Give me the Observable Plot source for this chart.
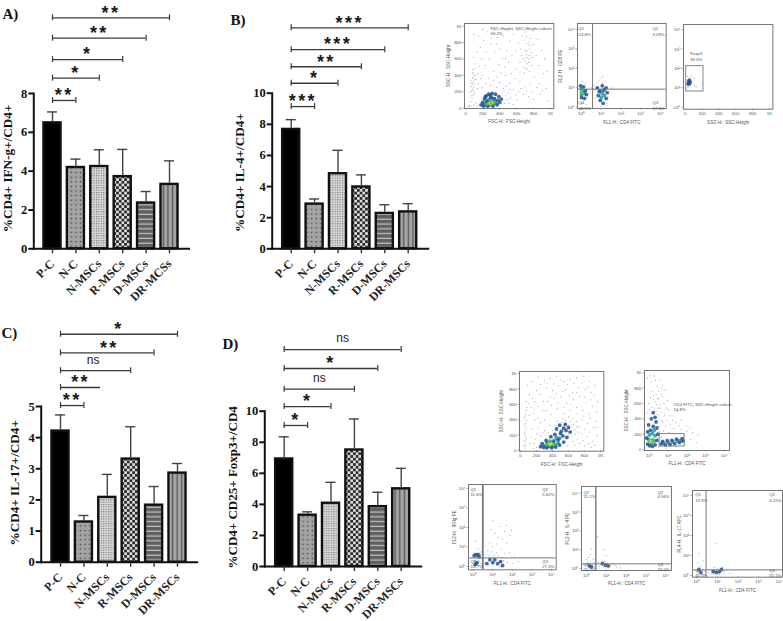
<!DOCTYPE html>
<html>
<head>
<meta charset="utf-8">
<script src="https://cdn.jsdelivr.net/npm/d3@7"></script>
<script src="https://cdn.jsdelivr.net/npm/@observablehq/plot@0.6"></script>
<style>
html,body{margin:0;padding:0;background:#fff;}
#page{position:relative;width:783px;height:621px;overflow:hidden;background:#fff;}
#page svg{position:absolute;overflow:visible;background:transparent;}
.stars text{letter-spacing:2.4px;}
</style>
</head>
<body>
<div id="page"></div>
<script>
// ---------- bar chart data ----------
const groupsA = ["P-C","N-C","N-MSCs","R-MSCs","D-MSCs","DR-MCSs"];
const groupsOther = ["P-C","N-C","N-MSCs","R-MSCs","D-MSCs","DR-MSCs"];

const meansA = [6.55,4.25,4.3,3.78,2.42,3.38];
const upperA = [7.05,4.62,5.1,5.12,2.95,4.53];
const bracketLevelsA = [7.64,8.79,9.75,10.85,11.9];
const bracketMarksA = ["**","*","*","**","**"];

const meansB = [7.75,2.95,4.9,4.05,2.35,2.45];
const upperB = [8.3,3.2,6.33,4.75,2.83,2.9];
const bracketLevelsB = [9.14,10.64,11.7,12.8,14.2];
const bracketMarksB = ["***","*","**","***","***"];

const meansC = [4.25,1.33,2.12,3.35,1.87,2.9];
const upperC = [4.73,1.5,2.82,4.35,2.43,3.17];
const bracketLevelsC = [5.03,5.61,6.15,6.72,7.32];
const bracketMarksC = ["**","**","ns","**","*"];

const meansD = [7.0,3.38,4.15,7.58,3.93,5.08];
const upperD = [8.35,3.52,5.42,9.5,4.78,6.32];
const bracketLevelsD = [9.08,10.3,11.42,12.75,13.97];
const bracketMarksD = ["*","*","ns","*","ns"];

const patternNames = ["solid","dots","fine","check","hstripe","vstripe"];

// ---------- flow cytometry dots ----------
const f1Sparse=[[40,30],[60,80],[75,120],[85,160],[70,210],[95,250],[80,300],[65,340],[90,380],[75,430],[100,180],[110,290],[60,260],[85,440],[120,350],[140,420],[160,510],[110,540],[90,620],[130,680],[170,740],[210,820],[150,880],[100,900],[250,930],[300,780],[340,690],[280,600],[230,520],[200,400],[270,360],[330,450],[390,530],[430,610],[480,700],[520,820],[560,900],[610,950],[440,880],[370,860],[640,560],[680,500],[700,620],[720,700],[740,770],[760,850],[690,830],[710,560],[750,600],[780,520],[730,480],[770,680],[660,640],[650,720],[800,780],[830,640],[860,520],[900,700],[920,420],[870,300],[810,380],[760,300],[700,260],[640,320],[580,360],[520,300],[470,400],[560,230],[620,200],[680,170],[740,140],[800,110],[880,170],[950,240],[970,90],[600,100],[500,180],[440,240],[400,310],[360,250],[68,150],[82,225],[72,275],[92,320],[78,365],[88,410],[705,660],[735,640],[755,720],[715,790],[745,810],[690,590],[725,540],[480,100],[530,130],[455,60],[510,60],[560,45],[120,60],[30,15],[60,25],[95,40],[140,30]];
const f1Extra=[[58,190],[98,205],[62,310],[105,345],[115,400],[78,470],[100,480],[135,240],[150,300],[175,360],[195,250],[240,300],[290,280],[325,340],[370,380],[415,430],[455,500],[505,560],[545,640],[590,700],[625,790],[670,880],[718,870],[772,760],[790,620],[742,560],[698,700],[675,600],[728,610],[760,640],[708,480],[750,450],[690,430],[640,440],[590,480],[540,420],[480,270],[430,190],[470,150],[510,110],[450,210],[520,230],[590,160],[650,240],[720,210],[780,190],[840,250],[905,210],[190,600],[240,680],[300,860],[360,780],[410,720],[470,600],[200,960],[330,950],[470,960],[700,930],[850,840],[930,600],[960,450]];
const f1Dark=[[180,40],[200,70],[220,110],[240,150],[270,170],[310,180],[350,170],[390,140],[420,110],[400,70],[370,40],[320,25],[260,25],[210,25],[250,80],[300,130],[340,115],[230,135],[380,95],[290,155]];
const f1Teal=[[210,45],[240,60],[260,95],[280,110],[310,115],[345,85],[320,45],[280,38],[240,35],[355,60]];
const f1Green=[[255,50],[280,62],[300,78],[325,70],[305,50]];
const f1Yellow=[[285,55],[308,62]];
const f1Red=[[296,58]];

const f2Sparse=[[0,0.2],[0.1,0.4],[0.3,0.5],[0.4,0.9],[0.5,1],[0.6,0.95],[0.7,0.9],[0.65,1.1],[0.8,1.3],[1,1.5],[1.1,1.6],[1.05,1.25],[1.2,1.35],[0.9,1.4],[1.3,0.2],[1.35,0.5],[1.4,0.8],[1.25,0.1],[0.95,0.05],[0.2,1.2],[0.05,1.35],[0.25,0.15],[1.5,1],[0.55,0.7],[0.7,0.5]];
const f2Dark=[[-0.05,1.1],[0.1,1.05],[0.2,0.85],[0.25,0.65],[0.15,0.45],[0,0.5],[0.8,1],[0.85,0.6],[0.95,0.35],[1.1,0.2],[1.25,0.45],[1.3,0.75],[1.25,1],[1.05,1.1],[0.9,0.8],[1.15,0.9]];
const f2Teal=[[0,0.95],[0.08,0.8],[0,0.65],[0.15,0.7],[0.95,0.85],[1.05,0.7],[1,0.5],[1.15,0.6],[1.1,0.85]];
const f2Green=[[-0.02,0.8],[0.04,0.72]];
const f2Empty=[];

const f3Sparse=[[25,1.0],[40,1.05],[60,1.15],[85,1.2],[110,1.1],[130,1.05],[70,1.65],[95,1.5],[30,1.6],[20,1.3],[55,1.55]];
const f3Dark=[[35,1.2],[50,1.4],[42,1.3],[60,1.3],[48,1.2]];
const f3Teal=[[42,1.35],[45,1.25]];

const f4Sparse=[[55,20],[60,70],[45,130],[65,180],[55,240],[70,300],[60,350],[50,420],[65,480],[80,560],[70,640],[110,730],[90,850],[140,900],[220,960],[300,910],[370,940],[450,960],[540,900],[620,930],[700,950],[790,970],[860,900],[930,850],[880,760],[810,800],[720,820],[650,760],[560,790],[470,840],[400,780],[320,820],[240,730],[180,640],[130,560],[160,480],[220,420],[280,520],[340,640],[420,680],[500,700],[580,620],[660,660],[740,700],[820,620],[900,580],[950,500],[860,480],[780,520],[700,560],[620,520],[540,560],[460,550],[380,470],[300,400],[220,300],[150,280],[130,180],[190,150],[120,90],[700,380],[770,400],[840,350],[910,300],[680,270],[760,220],[830,180],[900,120],[960,200],[740,90],[660,120],[590,60],[800,60],[880,40],[250,190],[300,260],[360,330],[460,380],[530,420],[600,440]];
const f4Extra=[[48,60],[62,110],[72,150],[52,210],[66,270],[48,330],[72,390],[58,450],[75,520],[100,610],[150,680],[200,780],[250,860],[330,880],[420,870],[500,920],[590,860],[670,880],[760,880],[840,820],[920,720],[960,640],[880,660],[800,700],[700,760],[610,720],[530,770],[450,740],[370,700],[290,640],[230,580],[170,540],[110,460],[180,400],[250,360],[320,520],[390,590],[470,620],[550,480],[630,600],[710,480],[790,450],[870,420],[940,380],[650,420],[730,310],[800,280],[870,240],[950,300],[640,180],[710,150],[780,130],[850,90],[930,70],[680,70],[620,380],[560,390],[510,370],[440,330],[400,260],[350,230],[280,230],[210,220],[170,90],[200,40],[160,30],[660,340],[700,310],[640,260],[720,240],[600,200],[680,210]];
const f4Dark=[[250,50],[290,40],[330,35],[390,35],[440,45],[490,70],[540,110],[580,170],[620,240],[600,300],[540,290],[490,330],[450,280],[500,220],[430,210],[380,180],[320,130],[270,90],[350,70],[410,110],[470,140],[530,190],[570,260],[560,340],[510,250]];
const f4Teal=[[290,65],[320,60],[360,55],[400,55],[440,70],[470,100],[420,130],[370,120],[330,100],[450,170],[490,160]];
const f4Green=[[330,75],[370,70],[405,80],[385,100],[350,90]];
const f4Yellow=[[365,82],[385,85]];

const f5Sparse=[[-0.1,930],[0.1,880],[0.25,960],[0.4,820],[0.55,900],[0.7,840],[0.85,780],[0.35,720],[0.15,760],[0.5,660],[0.7,690],[0.95,640],[0.3,620],[0.45,540],[0.6,480],[0.8,450],[1,520],[1.2,440],[1.5,500],[1.7,380],[1.4,350],[1.1,330],[0.85,300],[0.7,360],[1.3,270],[1.7,260],[2,310],[2.3,220],[2.6,190],[2.2,130],[0.5,30],[0.9,20],[1.4,40],[1.9,60],[0.05,680],[-0.05,600],[0.22,650],[0.38,580],[0.55,590],[2.5,90],[0.75,240],[1.05,220],[0.65,170],[1.85,180]];
const f5Extra=[[0,960],[0.32,900],[0.48,760],[0.62,800],[0.2,700],[0.42,660],[0.58,540],[0.5,440],[0.62,380],[0.55,300],[0.52,230],[0.58,150],[0.5,540],[0.26,540],[0.12,550],[0,520],[0.35,500],[0.48,400],[0.42,460],[-0.1,480],[0.62,720],[0.78,600],[0.9,540],[1.05,440],[1.25,380],[0.95,380],[1.6,310],[2,240],[2.15,280]];
const f5Dark=[[-0.1,70],[0,50],[0.15,40],[0.3,60],[0.4,120],[0.45,200],[0.4,280],[0.35,360],[0.3,420],[0.2,480],[0.1,400],[-0.05,320],[-0.1,230],[-0.15,150],[0.2,300],[0.05,250],[0.62,70],[0.85,60],[1.1,65],[1.35,75],[1.6,90],[1.8,110],[1.75,140],[1.45,135],[1.2,120],[0.95,115],[0.7,105]];
const f5Teal=[[-0.05,130],[0.1,80],[0.25,110],[0.3,180],[0.25,250],[0.15,210],[0,190],[0.75,85],[1,90],[1.25,100],[1.5,110],[1.65,115]];
const f5Green=[[0,100],[0.1,115],[0.06,90],[0.18,130]];
const f5Yellow=[[0.06,105]];

const f6Sparse=[[0.9,1.9],[1.1,1.7],[1.3,1.5],[1.5,1.4],[1.7,1.2],[1.9,1.6],[1.6,1.8],[1.4,2.05],[1.7,2.1],[1.95,1.85],[0.85,1.2],[1,1],[0.75,0.8],[1.2,1.15],[1.4,0.9],[1.6,0.65],[1.85,0.7],[2.1,0.5],[2.3,0.25],[1,2.35],[0.1,1.3],[0.25,0.9],[0.4,0.75],[0.6,1.05],[1.2,0.7],[0.95,0.45],[1.75,0.2],[2,0.15],[0.65,0.6],[0.8,0.55],[0.95,0.75],[1.05,0.55],[1.15,0.45],[1.3,0.55],[1.45,0.45],[1.55,0.3],[0.6,0.2],[0.55,0.08],[0.8,0.05],[1,0.08],[1.2,0.05],[1.35,0.02],[0.05,0.3],[0.15,0.4],[0.3,0.3],[0.38,0.15],[0.05,0.05],[0.3,0.05]];
const f6Dark=[[0.05,0.55],[0.2,0.6],[0.3,0.5],[0.1,0.1],[0.2,0.2],[0.85,0.35],[1,0.2],[1.1,0.35],[1.25,0.15],[1.4,0.25],[0.7,0.15],[1.5,0.05]];
const f6Teal=[[0.12,0.62],[0.28,0.62],[0.15,0.15]];

const f7Sparse=[[0.1,0.6],[0.2,0.75],[0.35,0.5],[0.05,0.35],[0.3,0.2],[0.15,0.05],[0.6,0.3],[0.75,0.2],[0.9,0.4],[1.05,0.3],[1.2,0.15],[1.35,0.25],[1.5,0.1],[1.7,0.05],[1,0.7],[0.9,1],[0.55,1.7],[0.25,1.05],[0.4,0.1],[0.85,0.1],[1.1,0.05],[0.05,0.18],[0.22,0.32],[0.38,0.3],[0.02,0.5],[0.65,0.12],[0.95,0.05],[1.25,0.32],[1.45,0.2]];
const f7Dark=[[0.15,0.15],[0.25,0.1],[0.95,0.2],[1.1,0.15],[0.8,0.28]];

const f8Sparse=[[0.05,0.65],[0.2,0.45],[0.3,0.25],[0.1,0.1],[0.35,0.05],[0.55,0.15],[0.7,0.3],[0.85,0.4],[1,0.35],[1.15,0.25],[1.3,0.12],[1.45,0.3],[1.6,0.1],[0.8,0.08],[0.95,1.6],[0.1,1.1],[0.3,0.75],[0.65,0.05],[1.1,0.05],[0.02,0.22],[0.22,0.08],[0.4,0.2],[0.9,0.28],[1.05,0.1],[1.25,0.4],[1.35,0.22],[0.72,0.12]];
const f8Dark=[[0.1,0.3],[0.2,0.15],[0.8,0.2],[0.95,0.15],[1.1,0.2],[1.2,0.3]];

const layerColors = ["#6f829c","#23508f","#1e9cae","#55c24c","#e6df2e","#e0512f"];
const layerRadii = [0.55,1.9,2,1.8,1.4,1];

const linearTicks=[0,200,400,600,800,1000];
const linearLabels=["0","200","400","600","800","1K"];
const decadeTicks=[0,1,2,3,4];
const decadeLabels=["10⁰","10¹","10²","10³","10⁴"];

// ---------- drawing helpers ----------
const page = document.getElementById("page");
const SERIF = "'Liberation Serif','Times New Roman',serif";
const SANS = "'Liberation Sans',Arial,sans-serif";

function place(svg, left, top){
  svg.style.left = left+"px";
  svg.style.top = top+"px";
  page.appendChild(svg);
}

function patternDefs(prefix){
  return () => {
    const ns = "http://www.w3.org/2000/svg";
    const defs = document.createElementNS(ns,"defs");
    const add = (name,w,h,html)=>{
      const p = document.createElementNS(ns,"pattern");
      p.setAttribute("id",prefix+name);
      p.setAttribute("patternUnits","userSpaceOnUse");
      p.setAttribute("width",w);
      p.setAttribute("height",h);
      p.innerHTML = html;
      defs.appendChild(p);
    };
    add("dots",4.6,4.6,'<rect width="4.6" height="4.6" fill="#a3a3a3"/><circle cx="2.3" cy="2.3" r="0.8" fill="#444"/>');
    add("fine",2.4,2.4,'<rect width="2.4" height="2.4" fill="#d8d8d8"/><rect width="1.1" height="1.1" fill="#747474"/>');
    add("check",5.4,5.4,'<rect width="5.4" height="5.4" fill="#dcdcdc"/><rect width="2.7" height="2.7" fill="#2a2a2a"/><rect x="2.7" y="2.7" width="2.7" height="2.7" fill="#2a2a2a"/>');
    add("hstripe",4.8,4.8,'<rect width="4.8" height="4.8" fill="#5f5f5f"/><rect y="2.6" width="4.8" height="1.2" fill="#c4c4c4"/>');
    add("vstripe",4.6,4.6,'<rect width="4.6" height="4.6" fill="#a8a8a8"/><rect x="1.6" width="1.5" height="4.6" fill="#5c5c5c"/>');
    return defs;
  };
}

function barPanel(o){
  const rows = o.groups.map((g,i)=>({
    group:g, mean:o.means[i], top:o.upper[i],
    fill: i===0 ? "#000" : `url(#${o.id}${patternNames[i]})`
  }));
  const p = 0.27;
  const r0 = o.c0 - o.step*(1+p)/2;
  const r1 = r0 + o.step*(6+p);
  const ml = o.axisX - o.box[0];
  const bracketMarks = [];
  o.levels.forEach((lv,k)=>{
    const end = o.groups[k+1];
    const nudge = (o.nudge && o.nudge[k]) || 0;
    const shift = (o.textShift && o.textShift[k]) || 0;
    const half = o.step*(1-p)/2;
    bracketMarks.push(Plot.ruleY([lv],{x1:()=>o.groups[0],x2:()=>end,y:d=>d,stroke:"#3a3a3a",strokeWidth:1.3,insetLeft:half,insetRight:half+nudge}));
    bracketMarks.push(Plot.ruleX([o.groups[0]],{x:d=>d,y1:()=>lv,y2:()=>lv,stroke:"#3a3a3a",strokeWidth:1.2,insetTop:-3,insetBottom:-3}));
    if(!nudge) bracketMarks.push(Plot.ruleX([end],{x:d=>d,y1:()=>lv,y2:()=>lv,stroke:"#3a3a3a",strokeWidth:1.2,insetTop:-3,insetBottom:-3}));
    const mark = o.marks[k];
    const isNs = mark==="ns";
    const midIdx = (k+1)/2;
    bracketMarks.push(Plot.text([mark],{
      text:d=>d, x:()=>o.groups[0], y:()=>lv,
      dx: midIdx*o.step - (nudge?nudge/2:0) + shift, dy: isNs ? -11 : -5,
      fontFamily:SANS, fontSize:isNs?12:18, fontWeight:isNs?"normal":"bold",
      fill:"#1a1a1a", className:isNs?"nsmark":"stars"
    }));
  });
  const svg = Plot.plot({
    width:o.box[2], height:o.box[3],
    marginLeft:ml, marginRight:o.box[2]-(o.axisEnd-o.box[0]),
    marginTop:o.yTop-o.box[1], marginBottom:o.box[3]-(o.y0-o.box[1]),
    style:{background:"transparent",color:"#1a1a1a"},
    x:{type:"band",domain:o.groups,range:[r0-o.box[0],r1-o.box[0]],padding:p,round:false,axis:null},
    y:{domain:[0,o.yMax],axis:null},
    color:{type:"identity"},
    marks:[
      patternDefs(o.id),
      Plot.ruleX(rows,{x:"group",y1:"mean",y2:"top",stroke:"#444",strokeWidth:1.4}),
      Plot.tickY(rows,{x:"group",y:"top",stroke:"#444",strokeWidth:1.4,insetLeft:3.5,insetRight:3.5}),
      Plot.barY(rows,{x:"group",y:"mean",fill:"fill",stroke:"#111",strokeWidth:2.4,insetTop:1.2}),
      Plot.frame({anchor:"left",stroke:"#111",strokeWidth:2}),
      Plot.frame({anchor:"bottom",stroke:"#111",strokeWidth:2}),
      Plot.axisY({ticks:o.yTicks,tickFormat:d=>String(d),tickSize:5,tickPadding:1.5,strokeWidth:2,stroke:"#111",fontFamily:SERIF,fontWeight:"bold",fontSize:12.5,label:null,fill:"#111"}),
      Plot.axisX({tickSize:5,tickPadding:8,tickRotate:-45,strokeWidth:1.4,stroke:"#333",fontFamily:SERIF,fontWeight:"bold",fontSize:12,label:null,fill:"#222"}),
      Plot.text([o.yLabel],{text:d=>d,frameAnchor:"left",textAnchor:"middle",y:()=>o.yLabelMid,dx:o.yLabelX-o.axisX,rotate:-90,fontFamily:SERIF,fontWeight:"bold",fontSize:o.yLabelSize,fill:"#111"}),
      Plot.text([o.letter],{text:d=>d,frameAnchor:"top-left",dx:o.letterPos[0]-o.axisX,dy:o.letterPos[1]-o.yTop,textAnchor:"start",fontFamily:SERIF,fontWeight:"bold",fontSize:15,fill:"#111"}),
      ...bracketMarks
    ]
  });
  place(svg,o.box[0],o.box[1]);
}

function flowPanel(o){
  const [l,t,r,b]=o.frame;
  const bl=l-21, bt=t-3, w=r-bl+1.3, h=b-bt+21;
  const pts=[];
  o.layers.forEach((arr,i)=>arr.forEach(d=>pts.push({x:d[0],y:d[1],layer:i})));
  const marks=[];
  marks.push(Plot.dot(pts,{x:"x",y:"y",r:d=>layerRadii[d.layer],fill:d=>layerColors[d.layer],stroke:"none",fillOpacity:d=>d.layer===0?0.75:0.85}));
  if(o.gateX!==undefined) marks.push(Plot.ruleX([o.gateX],{stroke:"#777",strokeWidth:o.gateW||1}));
  if(o.gateY!==undefined) marks.push(Plot.ruleY([o.gateY],{stroke:"#777",strokeWidth:1}));
  if(o.rect) marks.push(Plot.rect([o.rect],{x1:d=>d[0],x2:d=>d[1],y1:d=>d[2],y2:d=>d[3],fill:"none",stroke:"#777",strokeWidth:0.9}));
  marks.push(Plot.frame({stroke:"#777",strokeWidth:1}));
  marks.push(Plot.axisX({ticks:o.xTicks,tickFormat:d=>o.xLabels[o.xTicks.indexOf(d)],tickSize:1.5,tickPadding:1.5,fontSize:4.4,fontFamily:SANS,label:null,stroke:"#666",fill:"#555",strokeWidth:0.6}));
  marks.push(Plot.axisY({ticks:o.yTicks,tickFormat:d=>o.yLabels[o.yTicks.indexOf(d)],tickSize:1.5,tickPadding:1.5,fontSize:4.4,fontFamily:SANS,label:null,stroke:"#666",fill:"#555",strokeWidth:0.6}));
  marks.push(Plot.text([o.xName],{text:d=>d,frameAnchor:"bottom",textAnchor:"middle",dy:o.xNameDy||15,fontSize:4.6,fontFamily:SANS,fill:"#555"}));
  if(o.yName) marks.push(Plot.text([o.yName],{text:d=>d,frameAnchor:"left",textAnchor:"middle",dx:o.yNameDx,rotate:-90,fontSize:4.6,fontFamily:SANS,fill:"#555"}));
  (o.notes||[]).forEach(n=>marks.push(Plot.text([n[2]],{text:d=>d,frameAnchor:"top-left",dx:n[0],dy:n[1],textAnchor:"start",fontSize:4.3,fontFamily:SANS,fill:"#555"})));
  const svg=Plot.plot({
    width:w,height:h,marginLeft:l-bl,marginRight:w-(r-bl),marginTop:t-bt,marginBottom:h-(b-bt),
    style:{background:"transparent"},
    x:{domain:o.xDomain,range:[o.xRange[0]-bl,o.xRange[1]-bl],axis:null},
    y:{domain:o.yDomain,range:[o.yRange[0]-bt,o.yRange[1]-bt],axis:null},
    r:{type:"identity"},
    marks
  });
  place(svg,bl,bt);
}

// ---------- bar panels ----------
barPanel({id:"a",groups:groupsA,means:meansA,upper:upperA,levels:bracketLevelsA,marks:bracketMarksA,
  box:[0,0,205,305],axisX:33.3,axisEnd:188.5,y0:248.3,yTop:93,yMax:8,yTicks:[0,2,4,6,8],c0:52,step:23.4,
  yLabel:"%CD4+ IFN-g+/CD4+",yLabelMid:4.14,yLabelX:7.5,yLabelSize:13.2,letter:"A)",letterPos:[2,8]});
barPanel({id:"b",groups:groupsOther,means:meansB,upper:upperB,levels:bracketLevelsB,marks:bracketMarksB,
  box:[222,0,215,305],axisX:271.7,axisEnd:427.7,y0:248.3,yTop:92.7,yMax:10,yTicks:[0,2,4,6,8,10],c0:290.7,step:23.4,
  yLabel:"%CD4+ IL-4+/CD4+",yLabelMid:4.9,yLabelX:239,yLabelSize:13.2,letter:"B)",letterPos:[230,14]});
barPanel({id:"c",groups:groupsOther,means:meansC,upper:upperC,levels:bracketLevelsC,marks:bracketMarksC,nudge:{1:6.7},textShift:{2:-2.5,3:2},
  box:[0,312,210,308],axisX:40.7,axisEnd:196.7,y0:561.7,yTop:406,yMax:5,yTicks:[0,1,2,3,4,5],c0:60,step:23.4,
  yLabel:"%CD4+ IL-17+/CD4+",yLabelMid:2.55,yLabelX:14,yLabelSize:13.2,letter:"C)",letterPos:[1,327]});
barPanel({id:"d",groups:groupsOther,means:meansD,upper:upperD,levels:bracketLevelsD,marks:bracketMarksD,
  box:[218,312,215,308],axisX:264.3,axisEnd:420.7,y0:566,yTop:410.7,yMax:10,yTicks:[0,2,4,6,8,10],c0:283.7,step:23.4,
  yLabel:"%CD4+ CD25+ Foxp3+/CD4",yLabelMid:5.1,yLabelX:232.7,yLabelSize:13,letter:"D)",letterPos:[222,338]});

// ---------- flow panels ----------
flowPanel({frame:[464,22.7,553.3,107.7],xDomain:[0,1000],xRange:[465.3,550],yDomain:[0,1000],yRange:[107.3,25.3],
  xTicks:linearTicks,xLabels:linearLabels,yTicks:linearTicks,yLabels:linearLabels,
  layers:[f1Sparse.concat(f1Extra),f1Dark,f1Teal,f1Green,f1Yellow,f1Red],xName:"FSC-H:: FSC-Height",yName:"SSC-H:: SSC-Height",yNameDx:-15.7,
  notes:[[26,3,"FSC-Height, SSC-Height subset"],[26,8.3,"69.2%"]]});
flowPanel({frame:[577.3,23.3,666,108.3],xDomain:[0,4],xRange:[581.3,660.3],yDomain:[0,4],yRange:[107,29.3],
  xTicks:decadeTicks,xLabels:decadeLabels,yTicks:decadeTicks,yLabels:decadeLabels,gateX:0.56,gateY:0.93,
  layers:[f2Sparse,f2Dark,f2Teal,f2Green,f2Empty],xName:"FL1-H:: CD4 FITC",yName:"FL2-H:: CD8 PE",yNameDx:-16.7,
  notes:[[1,3.3,"Q1"],[1,9,"24.8%"],[75,3.3,"Q2"],[75,9,"3.09%"],[1,77.3,"Q4"],[1,83,"48.5%"],[75,77.3,"Q3"],[75,83,"27.5%"]]});
flowPanel({frame:[683.3,24,772.7,108.7],xDomain:[0,1000],xRange:[685,769.3],yDomain:[0,4],yRange:[106.7,29.3],
  xTicks:linearTicks,xLabels:linearLabels,yTicks:decadeTicks,yLabels:decadeLabels,rect:[12,217,0.81,2.12],
  layers:[f3Sparse,f3Dark,f3Teal],xName:"SSC-H:: SSC-Height",
  notes:[[6.7,27.7,"Foxp3"],[6.7,33.3,"99.6%"]]});
flowPanel({frame:[519,371,603.3,450.7],xDomain:[0,1000],xRange:[520,600],yDomain:[0,1000],yRange:[450,373.3],
  xTicks:linearTicks,xLabels:linearLabels,yTicks:linearTicks,yLabels:linearLabels,
  layers:[f4Sparse.concat(f4Extra),f4Dark,f4Teal,f4Green,f4Yellow],xName:"FSC-H:: FSC-Height",yName:"SSC-H:: SSC-Height",yNameDx:-18});
flowPanel({frame:[644.3,370,729.3,450],xDomain:[0,4],xRange:[649.3,724],yDomain:[0,1000],yRange:[449,372.3],
  xTicks:decadeTicks,xLabels:decadeLabels,yTicks:linearTicks,yLabels:linearLabels,rect:[0.54,1.88,39,200],
  layers:[f5Sparse.concat(f5Extra),f5Dark,f5Teal,f5Green,f5Yellow],xName:"FL1-H:: CD4 FITC",yName:"SSC-H:: SSC-Height",yNameDx:-17.7,
  notes:[[29,32.3,"CD4 FITC, SSC-Height subset"],[29,37.3,"16.8%"]]});
flowPanel({frame:[468,484,555.7,569.3],xDomain:[0,4],xRange:[472.7,551],yDomain:[0,4],yRange:[566,488],
  xTicks:decadeTicks,xLabels:decadeLabels,yTicks:decadeTicks,yLabels:decadeLabels,gateX:0.49,gateW:1.8,gateY:0.44,
  layers:[f6Sparse,f6Dark,f6Teal],xName:"FL1-H:: CD4 FITC",yName:"FL2-H:: IFNg PE",yNameDx:-14,
  notes:[[2,3.3,"Q1"],[2,8.3,"11.6%"],[73.7,3.3,"Q2"],[73.7,8.3,"5.82%"],[2,75,"Q4"],[2,80,"55.7%"],[73.7,75,"Q3"],[73.7,80,"27.3%"]]});
flowPanel({frame:[580.7,486,670.7,570],xDomain:[0,4],xRange:[585.7,665],yDomain:[0,4],yRange:[568.3,492.7],
  xTicks:decadeTicks,xLabels:decadeLabels,yTicks:decadeTicks,yLabels:decadeLabels,gateX:0.47,gateW:1.4,gateY:0.26,
  layers:[f7Sparse,f7Dark],xName:"FL1-H:: CD4 FITC",yName:"FL2-H:: IL-4 PE",yNameDx:-14,
  notes:[[2,4,"Q1"],[2,8.7,"15.1%"],[76,4,"Q2"],[76,8.7,"4.96%"],[2,76,"Q4"],[2,81.3,"55.7%"],[76,76,"Q3"],[76,81.3,"24.0%"]]});
flowPanel({frame:[691.7,490,781.7,576.7],xDomain:[0,4],xRange:[696,778.3],yDomain:[0,4],yRange:[575,495],
  xTicks:decadeTicks,xLabels:decadeLabels,yTicks:decadeTicks,yLabels:decadeLabels,gateX:0.45,gateY:0.28,
  layers:[f8Sparse,f8Dark],xName:"FL1-H:: CD4 FITC",yName:"FL4-H:: IL-17 APC",yNameDx:-13.3,
  notes:[[2.7,2.3,"Q1"],[2.7,8,"13.8%"],[76.7,2.3,"Q2"],[76.7,8,"4.25%"],[2.7,78,"Q4"],[2.7,83,"45.6%"],[76.7,78,"Q3"],[76.7,83,"35.1%"]]});
</script>
</body>
</html>
